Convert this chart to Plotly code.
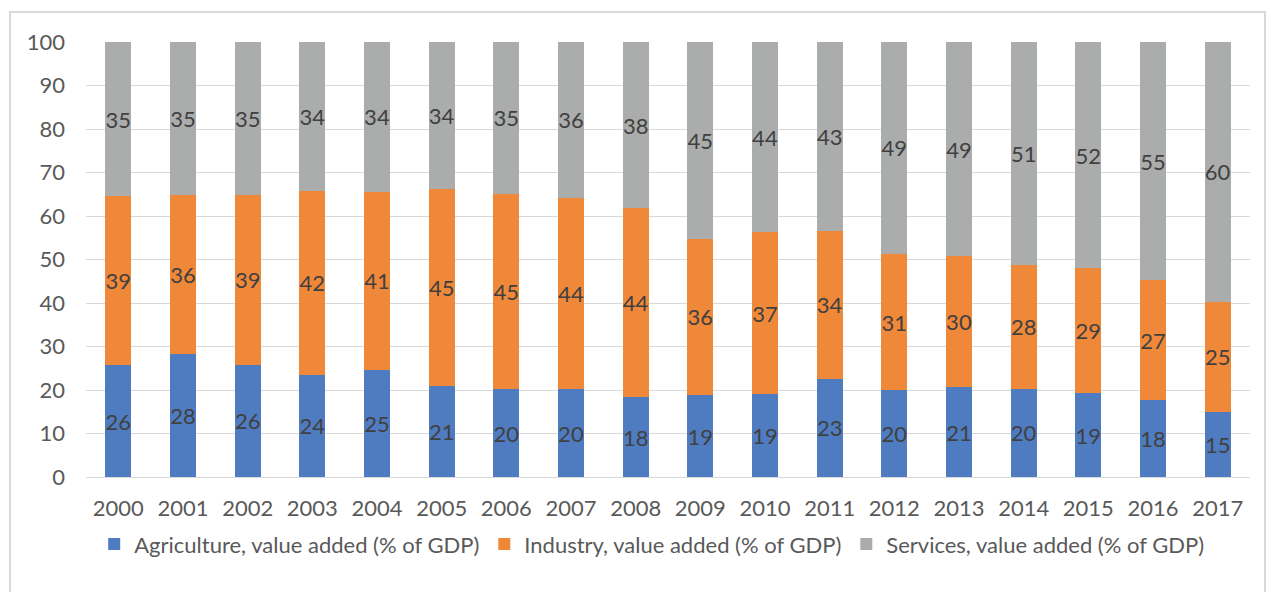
import plotly.graph_objects as go

years = [str(y) for y in range(2000, 2018)]
agriculture = [25.6, 28.1, 25.8, 23.6, 24.6, 20.8, 20.2, 20.2, 18.4, 18.8, 19.0, 22.6, 19.9, 20.6, 20.2, 19.3, 17.6, 15.0]
industry = [38.8, 36.4, 39.0, 42.2, 41.0, 45.4, 44.9, 44.0, 43.6, 36.0, 37.2, 34.0, 31.4, 30.1, 28.4, 28.7, 27.4, 25.3]
services = [35.4, 35.1, 35.2, 34.4, 34.4, 33.7, 34.9, 35.8, 38.3, 45.2, 43.7, 43.4, 48.7, 49.3, 51.1, 52.0, 54.6, 59.7]

series = [
    ("Agriculture, value added (% of GDP)", agriculture, "#4f7cc1"),
    ("Industry, value added (% of GDP)", industry, "#f0883a"),
    ("Services, value added (% of GDP)", services, "#abadac"),
]

FONT = "Lato"
FS = 22
fig = go.Figure()
for name, vals, color in series:
    fig.add_trace(go.Bar(
        x=years, y=vals, name=name,
        marker=dict(color=color, line=dict(width=0)),
        text=[f"{v:.0f}" for v in vals],
        textposition="inside", insidetextanchor="middle",
        constraintext="none", textangle=0,
        textfont=dict(family=FONT, size=FS, color="#404040"),
    ))

# page body has an 8px margin, so the figure is offset by 8px
fig.update_layout(
    barmode="stack", barnorm="percent", bargap=0.6,
    width=1266, height=584,
    margin=dict(l=78, r=24, t=34, b=115),
    paper_bgcolor="white", plot_bgcolor="white",
    font=dict(family=FONT, size=FS, color="#595959"),
    showlegend=True,
    legend=dict(orientation="h", x=0.486, xanchor="center", y=-0.106, yanchor="top",
                traceorder="normal",
                font=dict(family=FONT, size=FS, color="#595959"),
                itemwidth=30, tracegroupgap=0),
    shapes=[dict(type="rect", xref="paper", yref="paper",
                 x0=-0.0653, x1=1.0129, y0=-0.35, y1=1.069,
                 line=dict(color="#d9d9d9", width=2), fillcolor="rgba(0,0,0,0)", layer="below")],
)
fig.update_yaxes(range=[0, 100], dtick=10, showgrid=True, gridcolor="#d9d9d9", gridwidth=1,
                 zeroline=False, showline=False, ticks="", ticklabelstandoff=20,
                 tickfont=dict(family=FONT, size=FS, color="#595959"))
fig.update_xaxes(showgrid=False, showline=True, linecolor="#d9d9d9", linewidth=1, ticks="",
                 ticklabelstandoff=12,
                 tickfont=dict(family=FONT, size=FS, color="#595959"))

fig.write_html("out.html")
